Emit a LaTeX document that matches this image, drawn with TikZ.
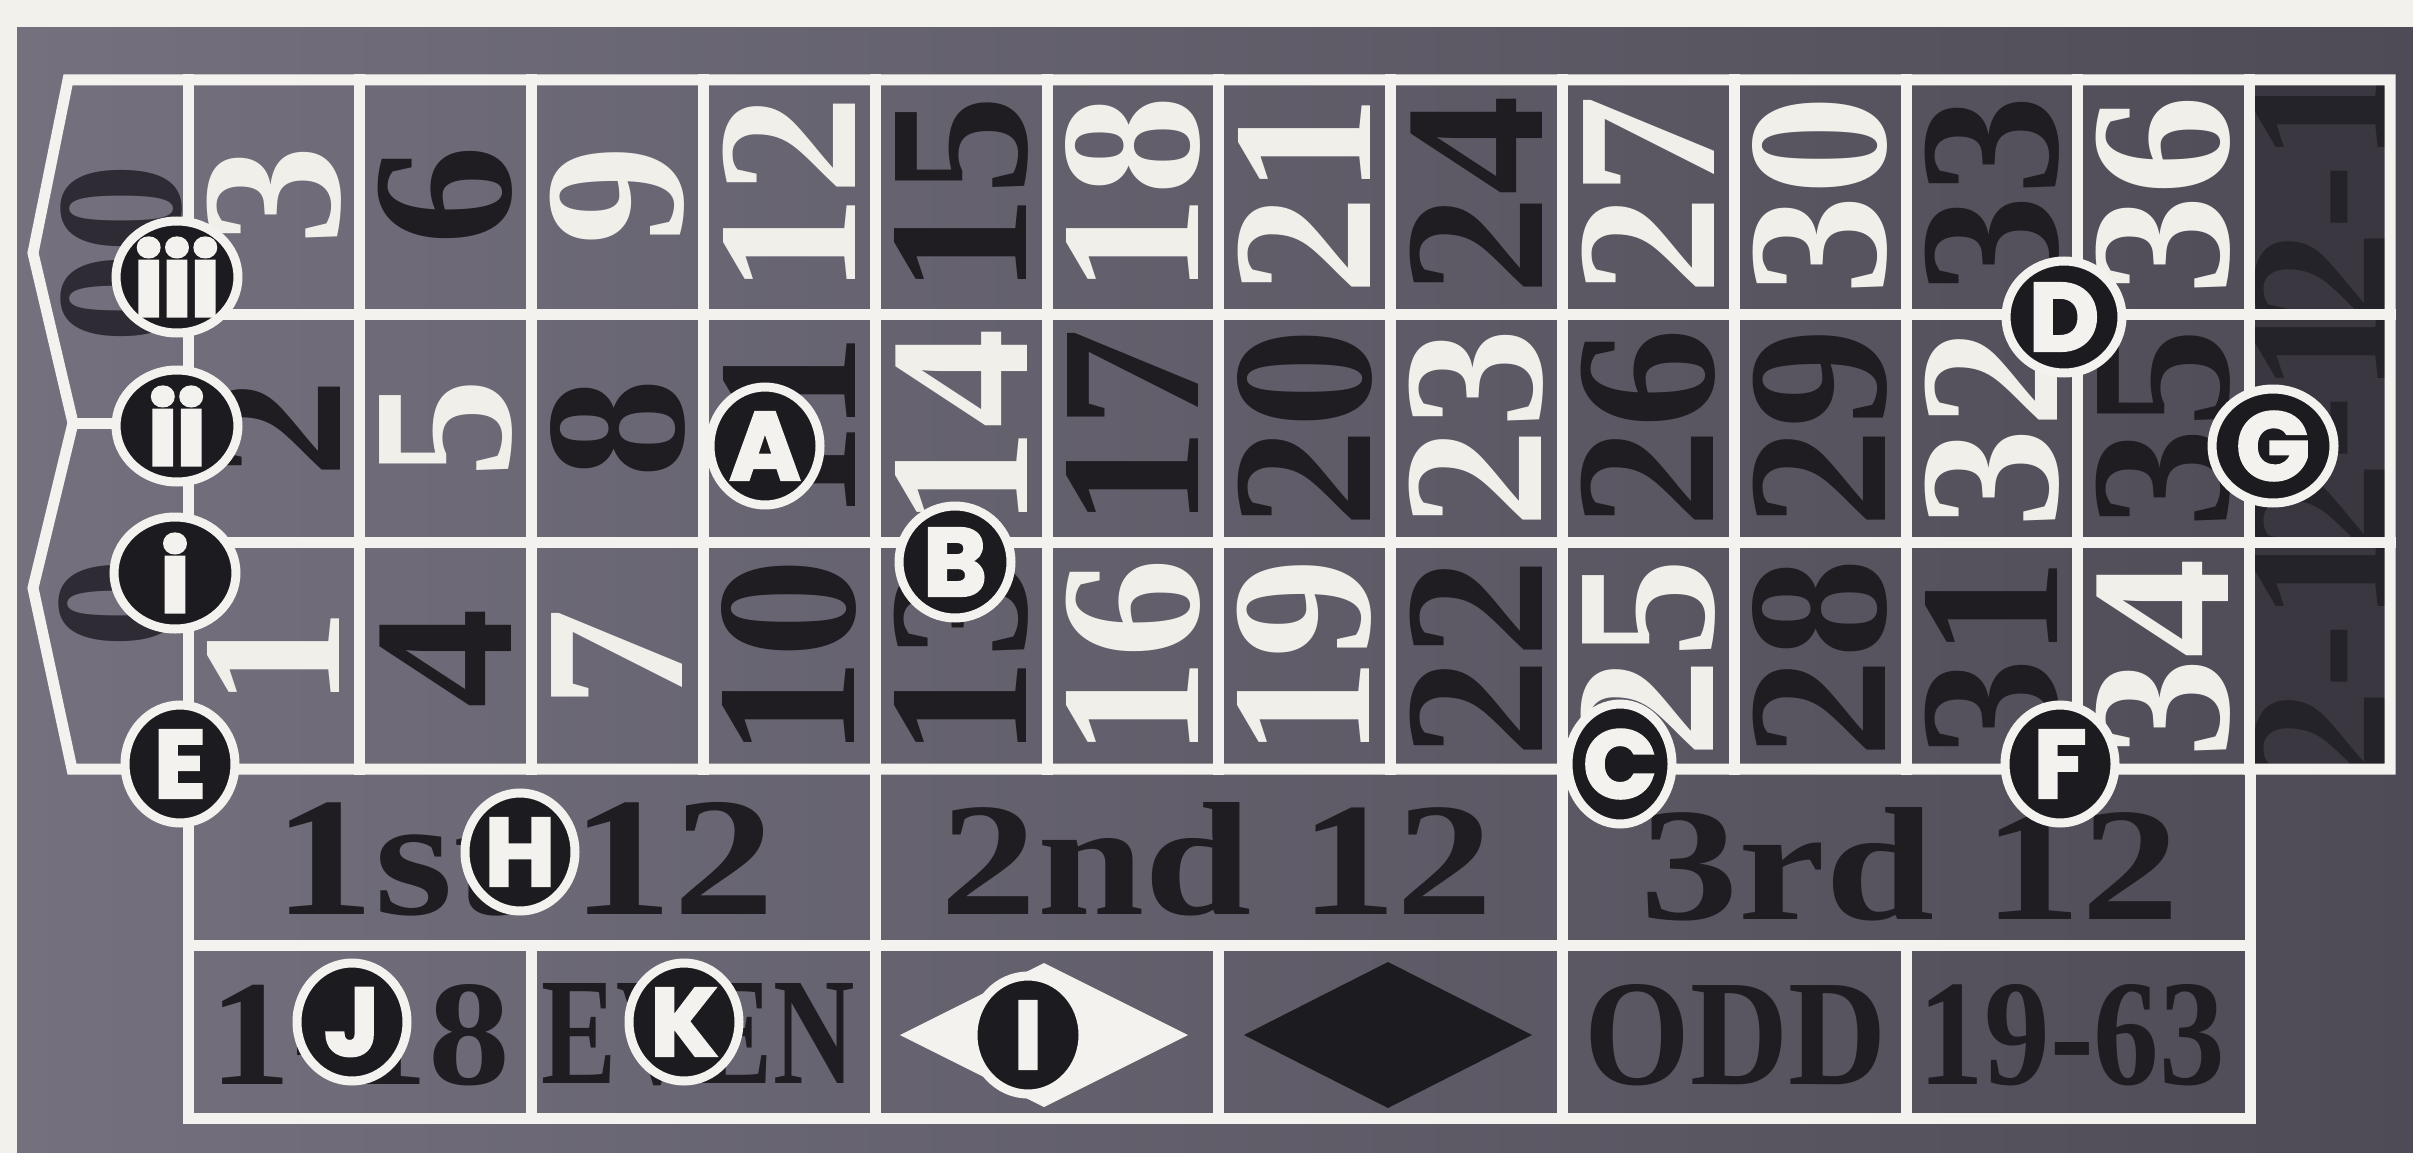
\documentclass[tikz,border=0pt]{standalone}
\usepackage{fontspec}
\usepackage{graphicx}
\usetikzlibrary{shapes.geometric}
\newfontfamily\lserif{Liberation Serif}
\newfontfamily\mkfont{Poppins}[BoldFeatures={FakeBold=3}]
\newfontfamily\romfont{Poppins}[BoldFeatures={FakeBold=4.5}]
\definecolor{paper}{HTML}{F3F1EC}
\definecolor{feltL}{HTML}{74707E}
\definecolor{feltR}{HTML}{4E4B56}
\definecolor{cellD}{HTML}{3A3741}
\definecolor{lineW}{HTML}{F4F2EE}
\definecolor{numW}{HTML}{F1EFEA}
\definecolor{numK}{HTML}{1F1D22}
\definecolor{zeroK}{HTML}{2E2B34}
\definecolor{colK}{HTML}{25232A}
\definecolor{mkK}{HTML}{1C1B1F}
\begin{document}
\begin{tikzpicture}[x=1pt,y=-1pt,
  gridline/.style={draw=lineW, line width=11pt, line cap=rect, line join=miter},
  numlabel/.style={rotate=90, inner sep=0, font=\lserif\bfseries\fontsize{200}{200}\selectfont},
  marker/.style={ellipse, fill=mkK, draw=lineW, line width=9pt, inner sep=0, text=lineW,
    minimum width=110pt, minimum height=118pt, font=\mkfont\bfseries\fontsize{96}{96}\selectfont},
  roman/.style={marker, minimum width=122pt, minimum height=112pt, font=\romfont\bfseries\fontsize{96}{96}\selectfont},
  boxlabel/.style={inner sep=0, text=numK}
]
\useasboundingbox (0,0) rectangle (2413,1153);
\fill[paper] (0,0) rectangle (2413,1153);
\shade[left color=feltL, right color=feltR] (17,28) rectangle (2413,1153);
% dark column-bet cells
\fill[cellD] (2250,80) rectangle (2390,769);
% numbers
\foreach \n/\tc in {1/numW,2/numK,3/numW,4/numK,5/numW,6/numK,7/numW,8/numK,9/numW,
  10/numK,11/numK,12/numW,13/numK,14/numW,15/numK,16/numW,17/numK,18/numW,
  19/numW,20/numK,21/numW,22/numK,23/numW,24/numK,25/numW,26/numK,27/numW,
  28/numK,29/numK,30/numW,31/numK,32/numW,33/numK,34/numW,35/numK,36/numW} {
  \pgfmathsetmacro\cx{188+171.8*(floor((\n-1)/3)+0.5)}
  \pgfmathtruncatemacro\rr{2-mod(\n-1,3)}
  \pgfmathsetmacro\cy{\rr==0 ? 195 : (\rr==1 ? 428 : 658)}
  \node[numlabel, text=\tc] (n\n) at (\cx,\cy) {\n};
}
% zeros
\node[numlabel, text=zeroK, font=\lserif\bfseries\fontsize{180}{180}\selectfont] (z00) at (122,253) {00};
\node[numlabel, text=zeroK, font=\lserif\bfseries\fontsize{180}{180}\selectfont] (z0) at (120,603) {0};
% column bets
\foreach \k/\yy/\ya/\yb in {1/197/80/314, 2/428/314/542, 3/656/542/769} {
  \begin{scope}
    \clip (2250,\ya) rectangle (2390,\yb);
    \node[numlabel, text=colK] (col\k) at (2320,\yy) {2-1};
  \end{scope}
}
% grid lines
\draw[gridline] (68,80) -- (2390,80) -- (2390,769) -- (72,769) -- (33,588) -- (73,423) -- (33,253) -- cycle;
\draw[gridline] (73,423) -- (188,423);
\draw[gridline] (188,314) -- (2390,314);
\draw[gridline] (188,542) -- (2390,542);
\foreach \i in {0,...,12} {
  \pgfmathsetmacro\xx{188+171.8*\i}
  \draw[gridline] (\xx,80) -- (\xx,769);
}
\draw[gridline] (188,769) -- (188,1118) -- (2250,1118) -- (2250,769);
\draw[gridline] (188,945) -- (2250,945);
\foreach \i in {4,8} {
  \pgfmathsetmacro\xx{188+171.8*\i}
  \draw[gridline] (\xx,769) -- (\xx,945);
}
\foreach \i in {2,4,6,8,10} {
  \pgfmathsetmacro\xx{188+171.8*\i}
  \draw[gridline] (\xx,945) -- (\xx,1118);
}
% dozens
\node[boxlabel] (d1) at (524,859) {\resizebox{501pt}{112pt}{\lserif\bfseries 1st 12}};
\node[boxlabel] (d2) at (1217,859) {\resizebox{551pt}{112pt}{\lserif\bfseries 2nd 12}};
\node[boxlabel] (d3) at (1910,864) {\resizebox{540pt}{112pt}{\lserif\bfseries 3rd 12}};
% outside bets
\node[boxlabel] (low) at (360,1035) {\resizebox{300pt}{100pt}{\lserif\bfseries 1-18}};
\node[boxlabel] (even) at (698,1035) {\resizebox{313pt}{100pt}{\lserif\bfseries EVEN}};
\node[boxlabel] (odd) at (1736,1035) {\resizebox{302pt}{100pt}{\lserif\bfseries ODD}};
\node[boxlabel] (high) at (2072,1035) {\resizebox{306pt}{100pt}{\lserif\bfseries 19-63}};
% diamonds
\fill[lineW] (900,1035) -- (1044,963) -- (1188,1035) -- (1044,1107) -- cycle;
\fill[mkK] (1244,1035) -- (1388,962) -- (1532,1035) -- (1388,1108) -- cycle;
% markers
\node[roman] (m3) at (177,277) {iii};
\node[roman] (m2) at (177,426) {ii};
\node[roman] (m1) at (175,573) {i};
\node[marker] (mE) at (180,764) {E};
\node[marker] (mA) at (765,446) {A};
\node[marker, minimum width=112pt, minimum height=112pt] (mB) at (955,562) {B};
\node[marker, minimum width=104pt, minimum height=120pt] (mC) at (1620,764) {C};
\node[marker, minimum width=116pt, minimum height=112pt] (mD) at (2064,317) {D};
\node[marker, minimum width=122pt, minimum height=114pt] (mG) at (2273,446) {G};
\node[marker] (mF) at (2060,764) {F};
\node[marker] (mH) at (520,852) {H};
\node[marker] (mJ) at (352,1022) {J};
\node[marker] (mK) at (684,1022) {K};
\node[marker] (mI) at (1028,1035) {I};
\end{tikzpicture}
\end{document}
